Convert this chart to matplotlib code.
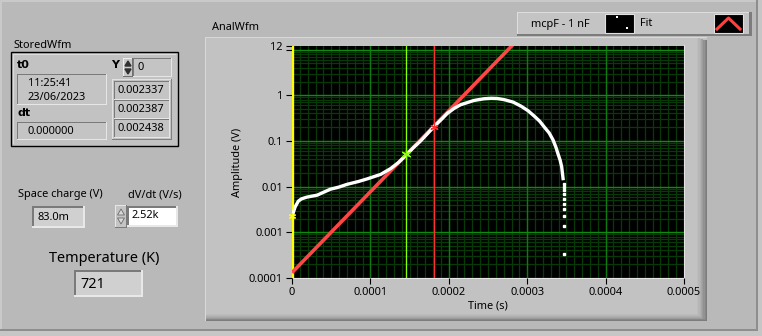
import matplotlib
matplotlib.use('Agg')
import matplotlib.pyplot as plt
from matplotlib.patches import Rectangle, Polygon

plt.rcParams['font.family'] = ['Noto Sans', 'DejaVu Sans']

W, H = 762, 336

# ---------------- data ----------------
time_s = [0.0, 0.000001, 0.000004, 0.000008, 0.000012, 0.000019, 0.000032,
          0.000049, 0.000060, 0.000070, 0.000085, 0.000096, 0.000113,
          0.000126, 0.000136, 0.000146, 0.000155, 0.000164, 0.000172,
          0.000181, 0.000190, 0.000198, 0.000207, 0.000215, 0.000232,
          0.000245, 0.000254, 0.000262, 0.000271, 0.000282, 0.000292,
          0.000301, 0.000309, 0.000316, 0.000322, 0.000328, 0.000333,
          0.000337, 0.000339, 0.000342, 0.000344, 0.000346]
amplitude_v = [0.0022, 0.0025, 0.0036, 0.0048, 0.0054, 0.0059, 0.0065,
               0.0088, 0.0098, 0.0112, 0.0130, 0.0148, 0.0185,
               0.025, 0.034, 0.050, 0.072, 0.100, 0.140,
               0.205, 0.290, 0.40, 0.52, 0.62, 0.77,
               0.84, 0.86, 0.85, 0.80, 0.71, 0.58,
               0.46, 0.35, 0.27, 0.20, 0.15, 0.105,
               0.070, 0.054, 0.038, 0.027, 0.0138]
tail_time_s = [0.0003468, 0.000347, 0.000347, 0.000347, 0.0003472, 0.0003472,
               0.0003474, 0.0003474, 0.0003474, 0.0003474]
tail_amplitude_v = [0.0115, 0.0098, 0.0083, 0.0070, 0.0055, 0.0042,
                    0.0033, 0.0023, 0.00135, 0.00033]

fit_time_s = [0.0, 0.0003]
fit_amplitude_v = [1.31e-4, 27.0]

cursor_times = [0.0, 0.000146, 0.000181]
cursor_values = [0.0023, 0.052, 0.205]
cursor_colors = ['#ffff00', '#88ff00', '#ff3030']

x_ticks = [0, 0.0001, 0.0002, 0.0003, 0.0004, 0.0005]
x_tick_labels = ['0', '0.0001', '0.0002', '0.0003', '0.0004', '0.0005']
y_ticks = [1e-4, 1e-3, 1e-2, 0.1, 1, 12]
y_tick_labels = ['0.0001', '0.001', '0.01', '0.1', '1', '12']

stored_t0 = ['11:25:41', '23/06/2023']
stored_dt = '0.000000'
stored_index = '0'
stored_y = ['0.002337', '0.002387', '0.002438']
space_charge = '83.0m'
dvdt = '2.52k'
temperature = '721'

BG = '#b9b9b9'
FS = 7.9

# ---------------- figure ----------------
fig = plt.figure(figsize=(W / 100, H / 100), dpi=100)
fig.patch.set_facecolor(BG)
bg = fig.add_axes([0, 0, 1, 1])
bg.set_xlim(0, W)
bg.set_ylim(H, 0)
bg.axis('off')


def rect(x0, y0, x1, y1, fc, ec='none', lw=0, z=1):
    bg.add_patch(Rectangle((x0, y0), x1 - x0, y1 - y0, facecolor=fc,
                           edgecolor=ec, linewidth=lw, zorder=z))


def bevel(x0, y0, x1, y1, fill, tl, br, w=1, z=1):
    rect(x0, y0, x1, y1, fill, z=z)
    rect(x0, y0, x1, y0 + w, tl, z=z)
    rect(x0, y0, x0 + w, y1, tl, z=z)
    rect(x0, y1 - w, x1, y1, br, z=z)
    rect(x1 - w, y0, x1, y1, br, z=z)


def txt(x, y, s, size=FS, ha='left', weight='normal', color='black', **kw):
    bg.text(x, y, s, fontsize=size, ha=ha, va='center', weight=weight,
            color=color, zorder=10, **kw)


BOLD = ['DejaVu Sans', 'Liberation Sans']

# outer panel border
rect(0, 0, W, 2, '#c9c9c9')
rect(0, 0, 2, H, '#c9c9c9')
rect(756, 0, 758, 331, '#8e8e8e')
rect(758, 0, W, H, '#c6c6c6')
rect(0, 329, 758, 331, '#8e8e8e')
rect(0, 331, W, H, '#c6c6c6')

# ---------------- StoredWfm cluster ----------------
txt(13, 45, 'StoredWfm')
rect(11, 52, 178, 146, '#c2c2c2', ec='black', lw=1.0)
rect(13, 54, 176, 55, '#dcdcdc')
rect(13, 54, 14, 144, '#dcdcdc')
txt(17, 65, 't0', size=8, weight='bold', family=BOLD)
bevel(17, 74, 107, 105, '#c4c4c4', '#7a7a7a', '#e6e6e6')
txt(28, 83, stored_t0[0])
txt(28, 98, stored_t0[1])
txt(17, 113, 'dt', size=8, weight='bold', family=BOLD)
bevel(17, 122, 107, 140, '#c4c4c4', '#7a7a7a', '#e6e6e6')
txt(27, 131, stored_dt)
txt(111, 65, 'Y', size=8, weight='bold', family=BOLD)
# index spinner
bevel(123, 58, 133, 77, '#c8c8c8', '#eeeeee', '#707070')
bg.add_patch(Polygon([[125, 66], [131, 66], [128, 61]], closed=True,
                     color='#303030', zorder=5))
bg.add_patch(Polygon([[125, 69], [131, 69], [128, 74]], closed=True,
                     color='#303030', zorder=5))
bevel(133, 58, 172, 77, '#c4c4c4', '#7a7a7a', '#e6e6e6')
txt(138, 67, stored_index)
# array frame
bevel(112, 79, 172, 140, '#c2c2c2', '#e2e2e2', '#808080')
cell_y = [81, 100, 119]
for cy, val in zip(cell_y, stored_y):
    bevel(114, cy, 170, cy + 19, '#c4c4c4', '#7a7a7a', '#e6e6e6')
    txt(117, cy + 9.5, val)

# ---------------- space charge / dV/dt ----------------
txt(18, 195, 'Space charge (V)')
bevel(32, 206, 85, 228, '#d0d0d0', '#7a7a7a', '#e8e8e8', w=2)
txt(37, 217, space_charge)
txt(128, 195, 'dV/dt (V/s)')
bevel(115, 205, 127, 228, '#c4c4c4', '#e6e6e6', '#7a7a7a')
bg.add_patch(Polygon([[117.5, 215], [124.5, 215], [121, 209]], closed=True,
                     fc='#d8d8d8', ec='#6a6a6a', lw=0.6, zorder=5))
bg.add_patch(Polygon([[117.5, 218], [124.5, 218], [121, 224]], closed=True,
                     fc='#d8d8d8', ec='#6a6a6a', lw=0.6, zorder=5))
bevel(127, 206, 178, 227, '#ffffff', '#7a7a7a', '#e8e8e8', w=2)
txt(131, 216, dvdt)

# ---------------- temperature ----------------
txt(104.5, 258, 'Temperature (K)', size=10.4, ha='center')
bevel(74, 270, 143, 297, '#d0d0d0', '#7a7a7a', '#e8e8e8', w=2)
txt(80, 285, temperature, size=10.4)

# ---------------- graph frame ----------------
txt(212, 27, 'AnalWfm')
rect(205, 37, 707, 321, '#c2c2c2')
rect(205, 37, 707, 38, '#d8d8d8')
rect(205, 37, 206, 321, '#d8d8d8')
for i, c in enumerate(['#bdbdbd', '#b6b6b6', '#afafaf', '#a6a6a6',
                       '#9c9c9c', '#929292', '#878787', '#7c7c7c']):
    rect(697 + i * 1.25, 38 + i * 0.3, 698.3 + i * 1.25, 321, c)
    rect(206, 314 + i * 0.9, 707, 315 + i * 0.9, c)
rect(684, 45, 685, 279, '#e4e4e4')
rect(291, 278, 685, 279, '#e4e4e4')

# ---------------- legend ----------------
rect(517, 12, 752, 36, '#c4c4c4')
rect(517, 12, 752, 13, '#dddddd')
rect(517, 12, 518, 36, '#dddddd')
rect(517, 34, 752, 36, '#7c7c7c')
rect(749, 12, 752, 36, '#7c7c7c')
txt(531, 24, 'mcpF - 1 nF')
rect(605, 14, 634, 33, 'black', ec='#e0e0e0', lw=0.8)
rect(616, 16, 618, 18, 'white', z=3)
rect(626, 27, 628, 29, 'white', z=3)
txt(640, 24, 'Fit')
rect(714, 14, 743, 33, 'black', ec='#e0e0e0', lw=0.8)
bg.plot([717, 728.5, 740], [29, 18, 29], color='#ff4040', lw=2.2, zorder=5)

# ---------------- plot ----------------
L, R, T, B = 292, 684, 46, 278
ax = fig.add_axes([L / W, 1 - B / H, (R - L) / W, (B - T) / H])
ax.set_facecolor('black')
ax.set_yscale('log')
ax.set_xlim(0, 0.0005)
ax.set_ylim(1e-4, 12)
for s in ax.spines.values():
    s.set_visible(False)

# grid
minor_x = [i * 0.00001 for i in range(1, 50)]
for xv in minor_x:
    ax.axvline(xv, color='#083a08', lw=0.9, zorder=1)
for xv in x_ticks[1:]:
    ax.axvline(xv, color='#0f7a0f', lw=1.0, zorder=1.5)
for dec in [1e-4, 1e-3, 1e-2, 1e-1, 1]:
    for k in range(2, 10):
        ax.axhline(dec * k, color='#083a08', lw=0.9, zorder=1)
for yv in [1e-4, 1e-3, 1e-2, 1e-1, 1, 10]:
    ax.axhline(yv, color='#0f8a0f', lw=1.0, zorder=1.5)

# cursors (vertical lines)
ax.axvline(cursor_times[0], color=cursor_colors[0], lw=2.4, zorder=2)
ax.axvline(cursor_times[1], color=cursor_colors[1], lw=1.0, zorder=2)
ax.axvline(cursor_times[2], color=cursor_colors[2], lw=0.9, zorder=2)

# fit and data
ax.plot(fit_time_s, fit_amplitude_v, color='#ff4545', lw=2.6, zorder=3,
        solid_capstyle='butt')
ax.plot(time_s, amplitude_v, color='white', lw=2.4, zorder=4,
        solid_capstyle='butt')
ax.plot(tail_time_s, tail_amplitude_v, linestyle='none', marker='s',
        markersize=1.8, color='white', zorder=4)

# cursor markers
for ct, cv, cc, ms in zip(cursor_times, cursor_values, cursor_colors,
                          [5, 7, 6]):
    ax.plot([ct], [cv], marker=(6, 2, 0), markersize=ms, color=cc,
            markeredgewidth=0.9, zorder=5, clip_on=False)

# ticks
ax.set_xticks(x_ticks)
ax.set_xticklabels(x_tick_labels)
ax.set_yticks(y_ticks)
ax.set_yticklabels(y_tick_labels)
ax.set_yticks([10], minor=True)
ax.yaxis.set_minor_formatter(plt.NullFormatter())
ax.tick_params(axis='both', which='both', direction='out', length=4.5,
               width=0.8, color='black', labelsize=FS, pad=2)
ax.tick_params(axis='y', which='minor', length=4.5)
ax.set_xlabel('Time (s)', fontsize=FS, labelpad=2)
ax.set_ylabel('Amplitude (V)', fontsize=FS, labelpad=4)

fig.savefig('out.png', dpi=100, facecolor=BG)
